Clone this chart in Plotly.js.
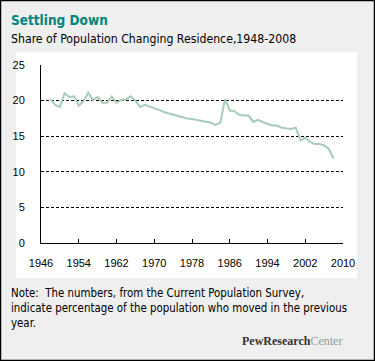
<!DOCTYPE html>
<html><head><meta charset="utf-8">
<script src="https://cdn.plot.ly/plotly-3.0.1.min.js"></script>
<style>html,body{margin:0;padding:0;background:#efefef;}#chart{width:375px;height:361px;}</style>
</head><body><div id="chart"></div>
<script>
const years = [1948,1949,1950,1951,1952,1953,1954,1955,1956,1957,1958,1959,1960,1961,1962,1963,1964,1965,1966,1967,1968,1969,1970,1971,1972,1973,1974,1975,1976,1977,1978,1979,1980,1981,1982,1983,1984,1985,1986,1987,1988,1989,1990,1991,1992,1993,1994,1995,1996,1997,1998,1999,2000,2001,2002,2003,2004,2005,2006,2007,2008];
const shareMoved = [20.2,19.4,19.1,21.0,20.5,20.6,19.3,19.9,21.1,20.1,20.5,19.7,19.7,20.6,19.7,20.1,20.2,20.6,20.0,19.1,19.4,19.2,19.0,18.7,18.4,18.2,18.0,17.8,17.6,17.5,17.4,17.3,17.2,17.1,16.9,16.6,16.9,20.2,18.6,18.5,18.0,17.9,17.9,17.0,17.3,17.0,16.7,16.5,16.5,16.2,16.1,16.0,16.2,14.4,14.8,14.2,13.9,13.9,13.7,13.2,11.9];
const xTickVals = [1946,1954,1962,1970,1978,1986,1994,2002,2010];
const yTickVals = [0,5,10,15,20,25];

const FW = 375, FH = 361, L = 41, R = 32, T = 65, B = 118;
const PW = FW - L - R, PH = FH - T - B;
const px = x => (x - L) / PW;
const py = y => (FH - B - y) / PH;

const trace = {
  x: years, y: shareMoved, type: 'scatter', mode: 'lines',
  line: {color: '#a8ccb8', width: 2}, hoverinfo: 'skip'
};

const layout = {
  width: FW, height: FH,
  margin: {l: L, r: R, t: T, b: B, pad: 0},
  paper_bgcolor: '#efefef', plot_bgcolor: '#ffffff',
  showlegend: false,
  font: {family: 'Liberation Sans, Arial, sans-serif', size: 11, color: '#000'},
  xaxis: {
    range: [1946, 2010], tickmode: 'array', tickvals: xTickVals,
    ticktext: xTickVals.map(String),
    showgrid: false, zeroline: false, showline: true, linecolor: '#000', linewidth: 1,
    ticks: 'inside', ticklen: 4, tickcolor: '#000', tickwidth: 1,
    ticklabelstandoff: 10,
    tickfont: {family: 'Liberation Sans, Arial, sans-serif', size: 11, color: '#000'},
    fixedrange: true
  },
  yaxis: {
    range: [0, 25], tickmode: 'array', tickvals: yTickVals,
    showgrid: true, gridcolor: '#000', gridwidth: 1, griddash: '3px,2px',
    zeroline: false, showline: true, linecolor: '#000', linewidth: 1,
    ticks: '', ticklabelstandoff: 13,
    tickfont: {family: 'Liberation Sans, Arial, sans-serif', size: 11, color: '#000'},
    fixedrange: true
  },
  shapes: [
    {type: 'rect', xref: 'paper', yref: 'paper', layer: 'below',
     x0: px(16), x1: px(357), y0: py(278), y1: py(52),
     fillcolor: '#ffffff', line: {width: 0}},
    {type: 'rect', xref: 'paper', yref: 'paper', layer: 'above',
     x0: px(0.5), x1: px(374.5), y0: py(360.5), y1: py(0.5),
     fillcolor: 'rgba(0,0,0,0)', line: {color: '#000', width: 1.5}}
  ],
  annotations: [
    {text: '<b>Settling Down</b>', xref: 'paper', yref: 'paper', x: px(9), y: py(10),
     xanchor: 'left', yanchor: 'top', showarrow: false,
     font: {family: 'DejaVu Sans Condensed, DejaVu Sans, sans-serif', size: 13.5, color: '#00857c'}},
    {text: 'Share of Population Changing Residence,1948-2008', xref: 'paper', yref: 'paper',
     x: px(9), y: py(30), xanchor: 'left', yanchor: 'top', showarrow: false,
     font: {family: 'DejaVu Sans Condensed, DejaVu Sans, sans-serif', size: 12.2, color: '#000'}},
    {text: 'Note:  The numbers, from the Current Population Survey,<br>indicate percentage of the population who moved in the previous<br>year.',
     xref: 'paper', yref: 'paper', x: px(9), y: py(284), xanchor: 'left', yanchor: 'top',
     align: 'left', showarrow: false,
     font: {family: 'DejaVu Sans Condensed, DejaVu Sans, sans-serif', size: 11.4, color: '#000'}},
    {text: '<b>PewResearch</b><span style="color:#9a9a9a">Center</span>', xref: 'paper', yref: 'paper',
     x: px(344), y: py(341), xanchor: 'right', yanchor: 'middle', showarrow: false,
     font: {family: 'Liberation Serif, Times New Roman, serif', size: 12, color: '#333'}}
  ]
};

Plotly.newPlot('chart', [trace], layout, {staticPlot: true, displayModeBar: false});
</script>
</body></html>
